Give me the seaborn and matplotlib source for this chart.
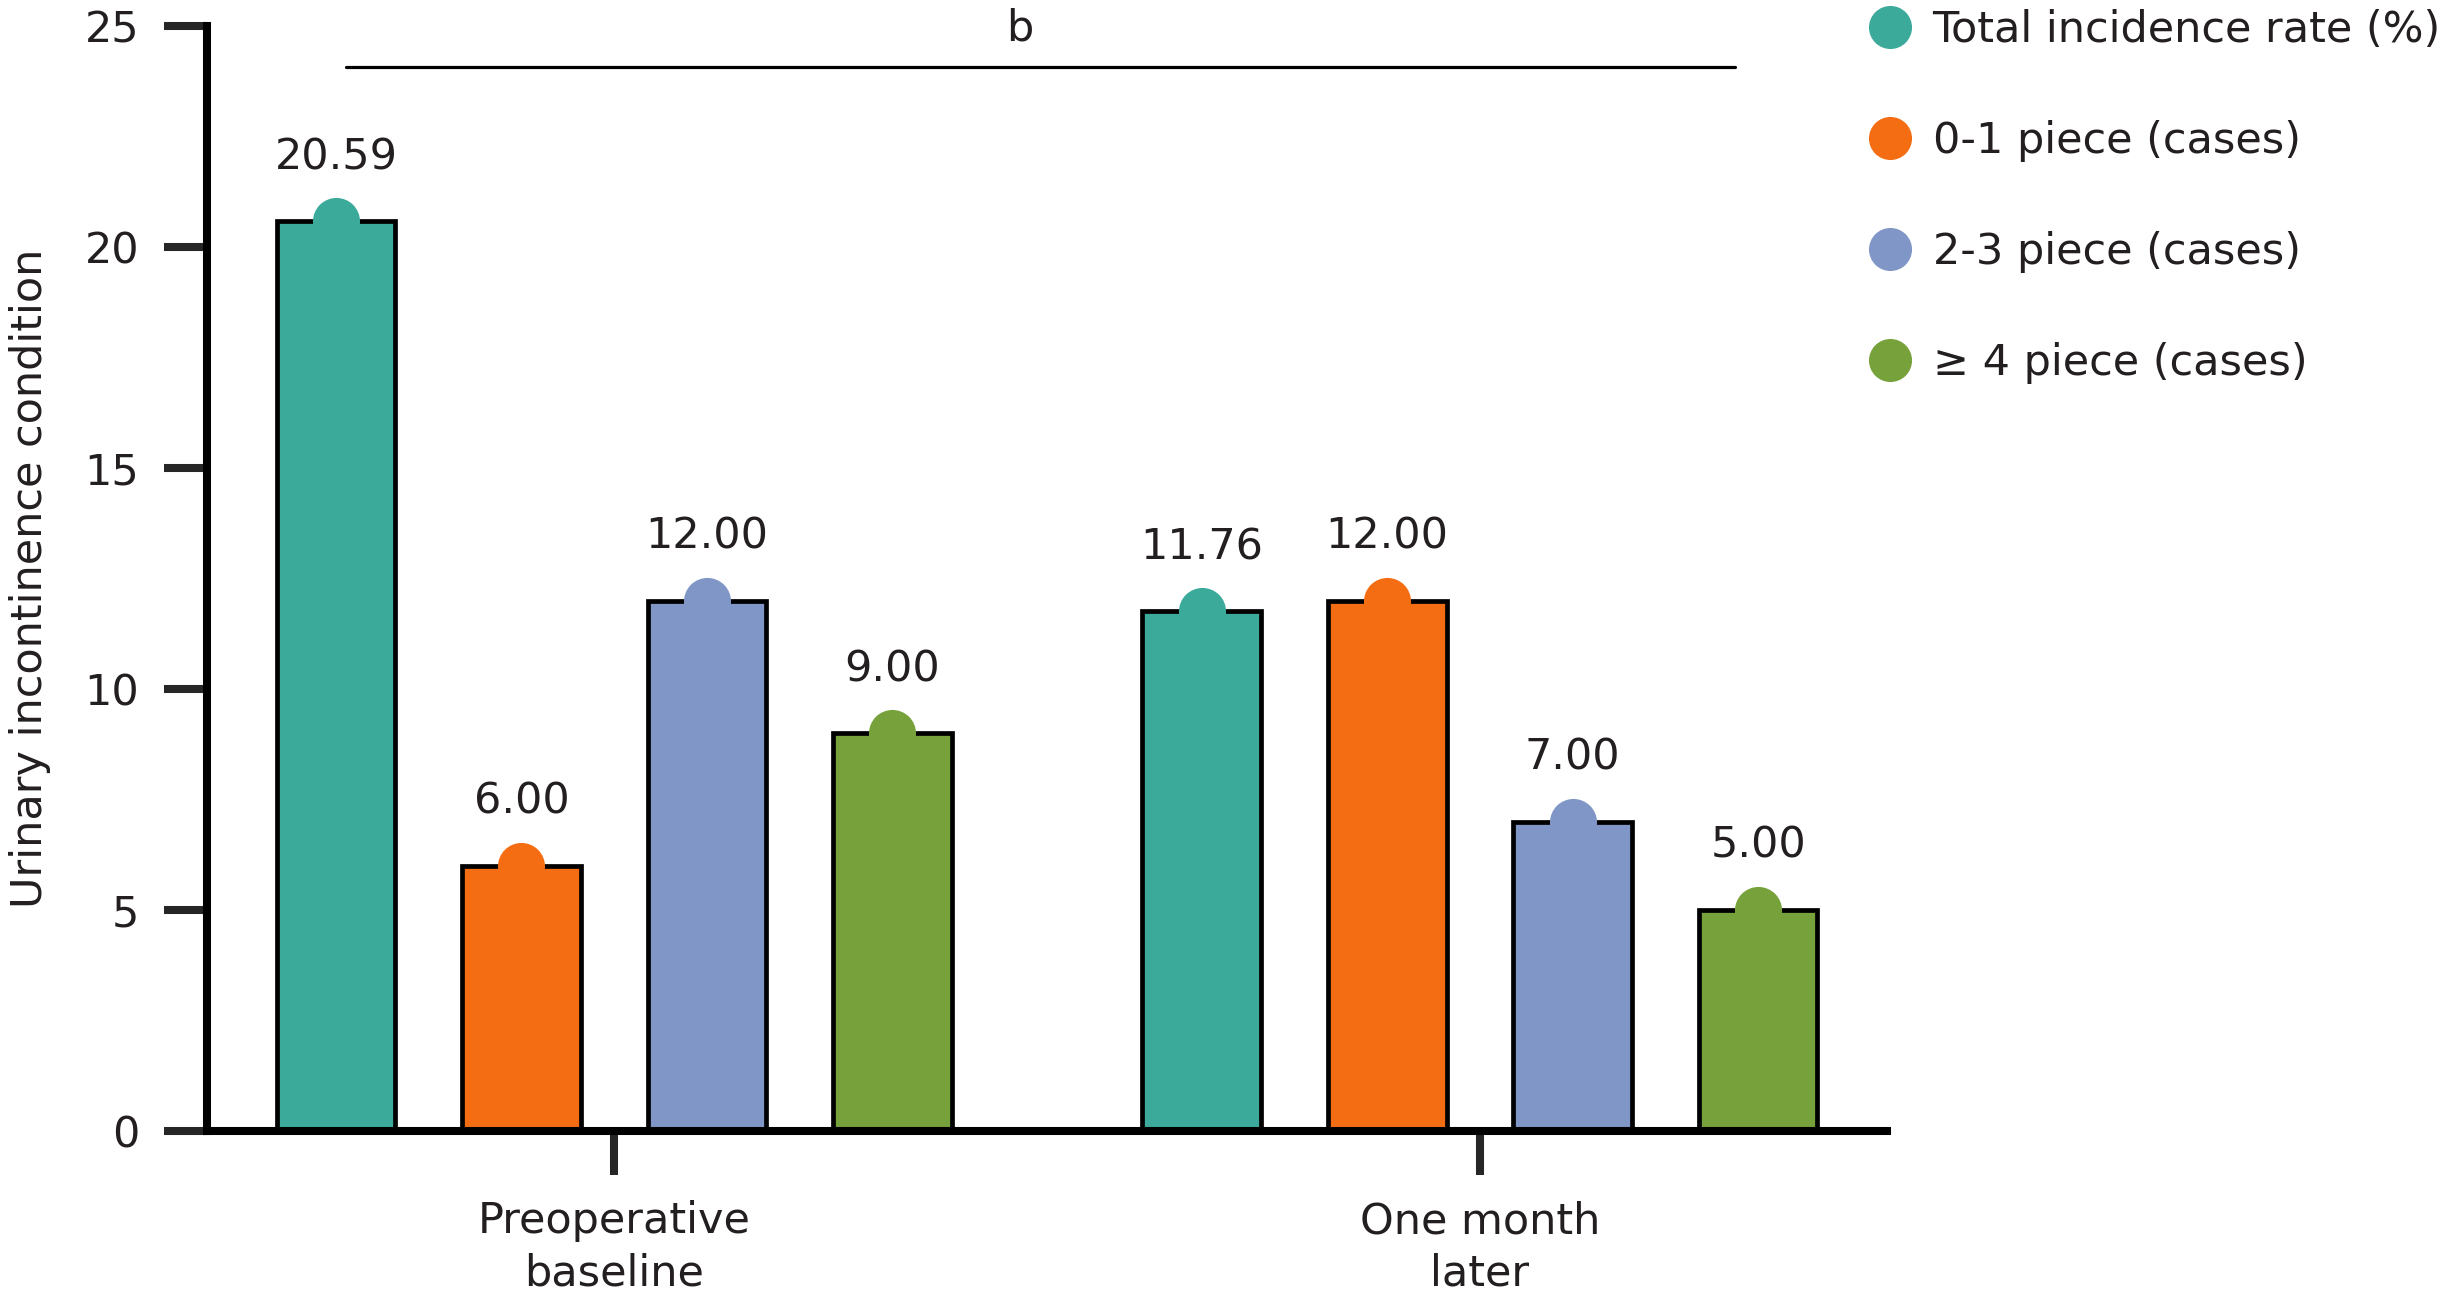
import matplotlib
matplotlib.use("Agg")
import matplotlib.pyplot as plt
from matplotlib.lines import Line2D
import seaborn as sns
import pandas as pd
import numpy as np

# ---- data ----
timepoints = ["Preoperative\nbaseline", "One month\nlater"]
series = ["Total incidence rate (%)", "0-1 piece (cases)", "2-3 piece (cases)", "\u2265 4 piece (cases)"]
total_rate = [20.59, 11.76]
piece_0_1 = [6.00, 12.00]
piece_2_3 = [12.00, 7.00]
piece_4_plus = [9.00, 5.00]
colors = ["#3BAA9A", "#F46D12", "#7F96C6", "#76A13B"]
y_ticks = [0, 5, 10, 15, 20, 25]
y_label = "Urinary incontinence condition"
sig_label = "b"

values = [total_rate, piece_0_1, piece_2_3, piece_4_plus]
rows = []
for s, vals in zip(series, values):
    for t, v in zip(timepoints, vals):
        rows.append({"time": t, "series": s, "value": v})
df = pd.DataFrame(rows)

sns.set_style("white")
plt.rcParams["font.family"] = ["DejaVu Sans"]
txt = "#231F20"
FS = 31

fig = plt.figure(figsize=(24.45, 12.99), dpi=100)
ax = fig.add_axes([0.0848, 0.1295, 0.6869, 0.8501])

sns.barplot(data=df, x="time", y="value", hue="series", order=timepoints,
            hue_order=series, palette=colors, width=0.857, gap=0.36,
            edgecolor="black", linewidth=3.4, saturation=1, ax=ax,
            legend=False, errorbar=None, zorder=2)

# dots on top of bars + value labels
for cont, col in zip(ax.containers, colors):
    xs = [p.get_x() + p.get_width() / 2 for p in cont.patches]
    hs = [p.get_height() for p in cont.patches]
    ax.scatter(xs, hs, s=1150, color=col, zorder=4, linewidths=0, clip_on=False)
    ax.bar_label(cont, fmt="%.2f", padding=31, fontsize=FS, color=txt)

ax.set_ylim(0, 25)
ax.set_xlim(-0.47, 1.47)
ax.set_yticks(y_ticks)
ax.set_xlabel("")
ax.set_ylabel(y_label, fontsize=FS, color=txt, labelpad=24)

for side in ["top", "right"]:
    ax.spines[side].set_visible(False)
for side in ["left", "bottom"]:
    ax.spines[side].set_linewidth(5.8)
    ax.spines[side].set_color("black")
ax.tick_params(axis="y", length=31, width=5.8, direction="out", pad=18,
               labelsize=FS, labelcolor=txt, left=True)
ax.tick_params(axis="x", length=32, width=5.8, direction="out", pad=18,
               labelsize=FS, labelcolor=txt, bottom=True)
for lab in ax.get_xticklabels():
    lab.set_linespacing(1.3)

# significance line
ax.plot([-0.31, 1.295], [24.08, 24.08], color="black", lw=2.3, clip_on=False, zorder=3)
ax.text(0.468, 24.95, sig_label, ha="center", va="center", fontsize=FS, color=txt)

# legend
handles = [Line2D([0], [0], marker="o", linestyle="", markersize=31,
                  markerfacecolor=c, markeredgewidth=0) for c in colors]
fig.legend(handles, series, loc="upper left", bbox_to_anchor=(0.764, 0.993),
           frameon=False, fontsize=FS, labelspacing=1.6, handletextpad=0.5,
           borderpad=0, borderaxespad=0, handlelength=1.0, labelcolor=txt)

fig.savefig("out.png", dpi=100, facecolor="white")
